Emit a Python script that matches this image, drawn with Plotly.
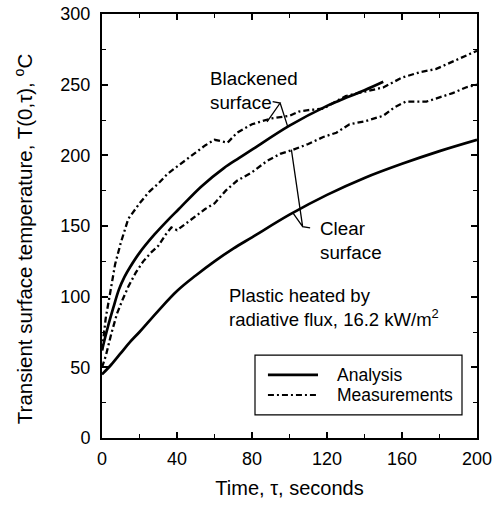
import plotly.graph_objects as go

# 해석 결과 (실선)
t_clear_an = [0, 5, 10, 15, 20, 30, 40, 50, 60, 70, 80, 100, 120, 140, 160, 180, 200]
T_clear_an = [45, 52, 60, 68, 75, 90, 104, 115, 125, 134, 142, 158, 172, 184, 194, 203, 211]

t_black_an = [0, 3, 6, 9, 12, 15, 20, 28, 35, 41, 53, 65, 73, 80, 100, 120, 127, 140, 150]
T_black_an = [62, 78, 92, 105, 114, 121, 131, 144, 154, 162, 178, 191, 198, 204, 221, 235, 239, 246, 252]

# 측정 결과 (일점쇄선)
t_black_ms = [0, 2, 4, 7, 10, 14, 20, 25, 30, 35, 40, 48, 55, 60, 63, 67, 72, 80, 90, 100, 105,
              110, 118, 125, 130, 140, 150, 160, 170, 178, 185, 192, 200]
T_black_ms = [62, 85, 100, 123, 138, 155, 166, 174, 180, 187, 192, 200, 207, 211, 210, 209, 216, 222,
              226, 228, 231, 232, 233, 238, 242, 245, 248, 255, 259, 261, 265, 269, 274]

t_clear_ms = [0, 2, 5, 8, 11, 14, 18, 22, 26, 30, 34, 37, 40, 44, 48, 55, 60, 66, 72, 80, 88, 95,
              102, 110, 118, 125, 132, 140, 150, 156, 162, 168, 173, 180, 187, 194, 200]
T_clear_ms = [50, 58, 74, 88, 98, 107, 117, 125, 131, 136, 144, 149, 147, 151, 155, 162, 166, 175,
              182, 188, 196, 201, 204, 208, 213, 216, 222, 224, 228, 234, 238, 238, 238, 241, 244,
              248, 250]

# 지시선 좌표 (t, T)
black_lead = [(91, 238), (95, 237), (88, 223.6), (95, 237), (99, 220.5)]
clear_lead = [(111, 148.6), (107, 149.5), (101, 204), (107, 149.5), (102, 159)]

# 범례 상자 (데이터 좌표)
legend_box = dict(x0=81.6, x1=192, y0=16.3, y1=58.7)
legend_items = [('Analysis', 'solid', 44.6), ('Measurements', 'dash', 30.4)]

FONT = 'Liberation Sans, Arial, sans-serif'
DASH = '6px,3px,2px,3px'

fig = go.Figure()
fig.add_trace(go.Scatter(x=t_clear_an, y=T_clear_an, mode='lines', name='Analysis', showlegend=False,
                         line=dict(color='black', width=2.7, shape='spline')))
fig.add_trace(go.Scatter(x=t_black_an, y=T_black_an, mode='lines', name='Analysis', showlegend=False,
                         line=dict(color='black', width=2.7, shape='spline')))
fig.add_trace(go.Scatter(x=t_black_ms, y=T_black_ms, mode='lines', name='Measurements', showlegend=False,
                         line=dict(color='black', width=2.3, dash=DASH)))
fig.add_trace(go.Scatter(x=t_clear_ms, y=T_clear_ms, mode='lines', name='Measurements', showlegend=False,
                         line=dict(color='black', width=2.3, dash=DASH)))

# 지시선
for pts in (black_lead, clear_lead):
    path = 'M ' + ' L '.join(f'{a},{b}' for a, b in pts[:3]) + ' M ' + \
           ' L '.join(f'{a},{b}' for a, b in pts[3:])
    fig.add_shape(type='path', path=path, xref='x', yref='y',
                  line=dict(color='black', width=1.3))

# 범례
fig.add_shape(type='rect', xref='x', yref='y', line=dict(color='black', width=1.2),
              fillcolor='white', **legend_box)
for name, style, yy in legend_items:
    fig.add_shape(type='line', xref='x', yref='y', x0=88.5, x1=115.2, y0=yy, y1=yy,
                  line=dict(color='black', width=2.7 if style == 'solid' else 2.0,
                            dash='solid' if style == 'solid' else DASH))
    fig.add_annotation(x=124.3, y=yy, text=name, showarrow=False, xanchor='left',
                       yanchor='middle', font=dict(size=17.5, color='black', family=FONT))

fig.add_annotation(x=56.5, y=246, text='Blackened<br>surface', showarrow=False,
                   xanchor='left', yanchor='middle', align='left',
                   font=dict(size=18.8, color='black', family=FONT))
fig.add_annotation(x=115, y=140, text='Clear<br>surface', showarrow=False,
                   xanchor='left', yanchor='middle', align='left',
                   font=dict(size=18.8, color='black', family=FONT))
fig.add_annotation(x=66.5, y=92, text='Plastic heated by<br>radiative flux, 16.2 kW/m<sup>2</sup>',
                   showarrow=False, xanchor='left', yanchor='middle', align='left',
                   font=dict(size=18.5, color='black', family=FONT))

# y축 제목 (조금 아래쪽에 위치)
fig.add_annotation(xref='paper', yref='paper', x=0, y=0.469, xshift=-78, textangle=-90,
                   text='Transient surface temperature, T(0,\u03c4), <sup>o</sup>C',
                   showarrow=False, xanchor='center', yanchor='middle',
                   font=dict(size=20.5, color='black', family=FONT))

axis_common = dict(showline=True, linecolor='black', linewidth=2, mirror='ticks',
                   ticks='inside', ticklen=6, tickwidth=1.5, tickcolor='black',
                   showgrid=False, zeroline=False,
                   tickfont=dict(size=18, color='black', family=FONT))

fig.update_xaxes(range=[0, 200], tickvals=[0, 40, 80, 120, 160, 200],
                 minor=dict(tickvals=[20, 60, 100, 140, 180], ticks='inside', ticklen=4,
                            tickcolor='black', tickwidth=1.2),
                 title=dict(text='Time, \u03c4, seconds', standoff=13,
                            font=dict(size=20, color='black', family=FONT)),
                 ticklabelstandoff=3, **axis_common)
fig.update_yaxes(range=[0, 300], tickvals=[0, 50, 100, 150, 200, 250, 300],
                 minor=dict(tickvals=[25, 75, 125, 175, 225, 275], ticks='inside', ticklen=4,
                            tickcolor='black', tickwidth=1.2),
                 ticklabelstandoff=6, **axis_common)

fig.update_layout(
    width=494, height=506,
    margin=dict(l=102, r=17, t=14, b=68, autoexpand=False),
    plot_bgcolor='white', paper_bgcolor='white',
    font=dict(family=FONT, color='black'),
    showlegend=False,
)

# 페이지 본문 기본 여백 제거, 모드바 숨김
fig.write_html('out.html', config={'displayModeBar': False},
               post_script="document.body.style.margin='0';")
